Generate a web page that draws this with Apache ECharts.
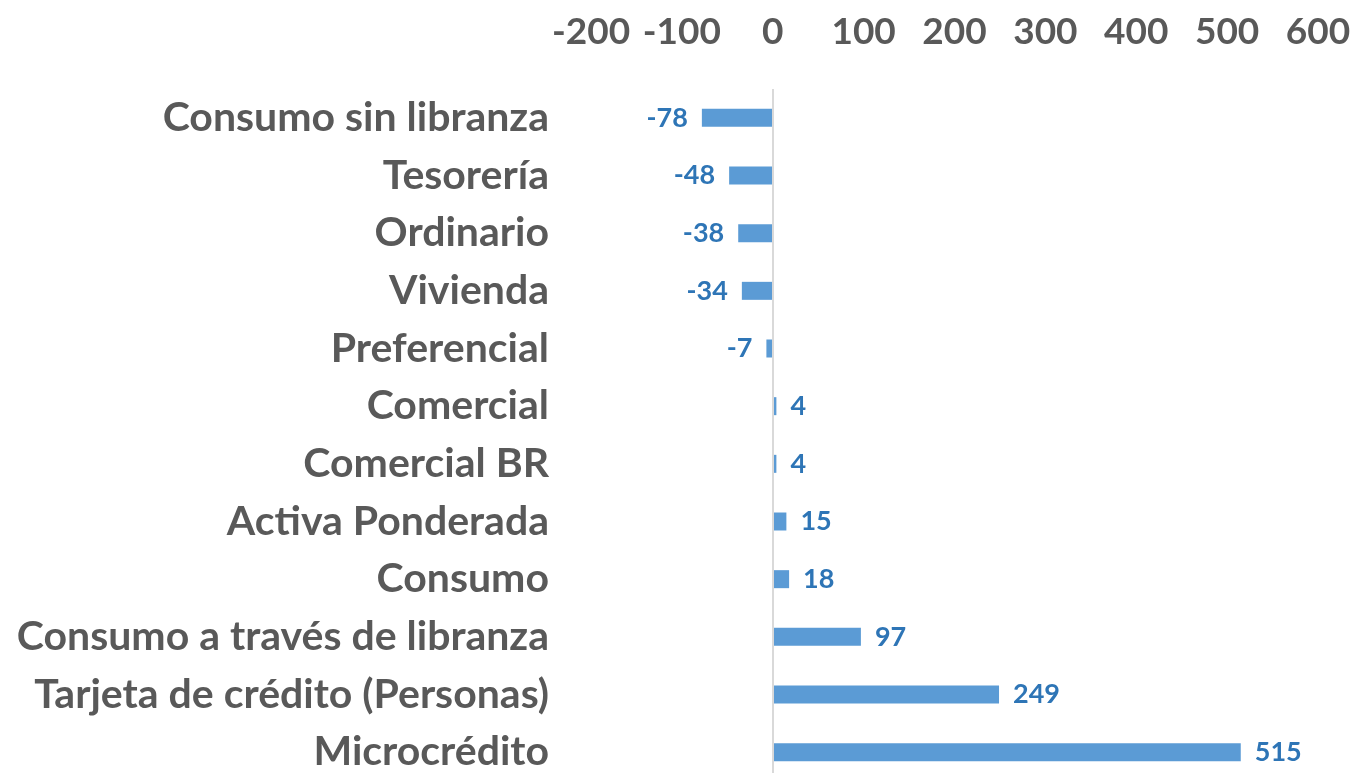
<!DOCTYPE html>
<html>
<head>
<meta charset="utf-8">
<script src="https://cdn.jsdelivr.net/npm/echarts@6/dist/echarts.min.js"></script>
<style>
  html, body { margin: 0; padding: 0; background: #fff; }
  #chart { width: 1359px; height: 773px; }
</style>
</head>
<body>
<div id="chart"></div>
<script>
// categories, top to bottom
const categories = [
  'Consumo sin libranza', 'Tesorería', 'Ordinario', 'Vivienda', 'Preferencial',
  'Comercial', 'Comercial BR', 'Activa Ponderada', 'Consumo',
  'Consumo a través de libranza', 'Tarjeta de crédito (Personas)', 'Microcrédito'
];
const values = [-78, -48, -38, -34, -7, 4, 4, 15, 18, 97, 249, 515];
const xTicks = [-200, -100, 0, 100, 200, 300, 400, 500, 600];

document.addEventListener('DOMContentLoaded', function () {
  let chart = echarts.init(document.querySelector('#chart'));
  const font = 'Lato, "Open Sans", sans-serif';

  // negative bars get their label on the left side
  let barData = values.map(function (v) {
    return { value: v, label: { position: v < 0 ? 'left' : 'right' } };
  });

  chart.setOption({
    animation: false,
    grid: {
      left: 591, right: 41, top: 89, height: 692,
      containLabel: false, outerBoundsMode: 'none'
    },
    xAxis: {
      type: 'value',
      position: 'top',
      min: xTicks[0],
      max: xTicks[xTicks.length - 1],
      interval: 100,
      axisLine: { show: false },
      axisTick: { show: false },
      splitLine: { show: false },
      axisLabel: {
        margin: 38,
        color: '#595959',
        fontFamily: font,
        fontWeight: 'bold',
        fontSize: 37
      }
    },
    yAxis: {
      type: 'category',
      data: categories,
      inverse: true,
      axisLine: { show: false },
      axisTick: { show: false },
      axisLabel: {
        margin: 42,
        color: '#595959',
        fontFamily: font,
        fontWeight: 'bold',
        fontSize: 41
      }
    },
    series: [{
      type: 'bar',
      data: barData,
      barWidth: 18,
      itemStyle: { color: '#5B9BD5' },
      label: {
        show: true,
        distance: 14,
        color: '#2E75B6',
        fontFamily: font,
        fontWeight: 'bold',
        fontSize: 27
      },
      markLine: {
        silent: true,
        symbol: 'none',
        label: { show: false },
        lineStyle: { color: '#D9D9D9', width: 2, type: 'solid' },
        data: [{ xAxis: 0 }]
      }
    }]
  });
});
</script>
</body>
</html>
